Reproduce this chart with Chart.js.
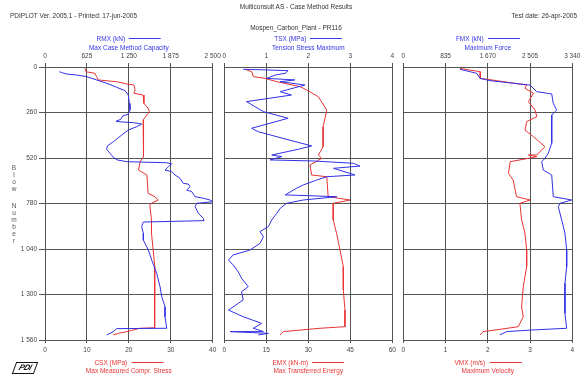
<!DOCTYPE html>
<html><head><meta charset="utf-8">
<script src="https://cdn.jsdelivr.net/npm/chart.js@4.4.1/dist/chart.umd.min.js"></script>
<style>
html,body{margin:0;padding:0;background:#fff;}
#wrap{position:relative;width:585px;height:379px;overflow:hidden;font-family:"Liberation Sans",Arial,sans-serif;}
canvas{position:absolute;left:0;top:0;}
.t{position:absolute;font-size:6.5px;line-height:7px;white-space:nowrap;color:#333;}
.c{transform:translateX(-50%);}
.blue{color:#3535e8;}
.red{color:#e83535;}
.ln{display:inline-block;width:32px;height:0;border-top:1px solid currentColor;vertical-align:2px;margin-left:4px;}
.yl{position:absolute;left:11px;font-size:6.5px;color:#555;width:6px;text-align:center;}
#logo{position:absolute;left:14px;top:362px;width:20px;height:10px;border:1.5px solid #111;transform:skewX(-20deg);font:italic bold 8px "Liberation Sans",Arial,sans-serif;line-height:10px;text-align:center;color:#111;letter-spacing:-0.5px;}
</style></head>
<body><div id="wrap">
<canvas id="c1" width="585" height="379"></canvas>
<canvas id="c2" width="585" height="379"></canvas>
<canvas id="c3" width="585" height="379"></canvas>
<div class="t c" style="left:296px;top:3px;">Multiconsult AS - Case Method Results</div>
<div class="t" style="left:10px;top:12px;">PDIPLOT Ver. 2005.1 - Printed: 17-jun-2005</div>
<div class="t" style="right:8px;top:12px;">Test date: 26-apr-2005</div>
<div class="t c" style="left:296px;top:24px;">Mospen_Carbon_Plant - PR116</div>
<div id="legends"></div>
<div id="ytitle"></div>
<div id="logo">PDI</div>
</div>
<script>
// ---------- data (value, blow number) ----------
const blowTicks = ['0','260','520','780','1 040','1 300','1 560'];
const yTitle = 'Blow Number';

// Panel 1
const rmxTicks = ['0','625','1 250','1 875','2 500'];
const csxTicks = ['0','10','20','30','40'];
const rmxBlow = [27,32,40,46,55,74,93,116,135,160,208,246,269,280,299,310,314,318,326,341,360,389,427,451,470,493,516,531,541,547,554,570,589,598,617,636,665,669,684,703,712,741,750,760,770,779,798,836,865,878,886,912,950,989,1046,1103,1179,1255,1312,1370,1427,1493,1495,1512,1522,1531];
const rmxVal  = [213,248,323,472,621,770,919,1069,1193,1242,1257,1267,1242,1158,1128,1059,1143,1317,1441,1367,1242,1143,1019,929,919,969,1019,1078,1218,1815,1889,1839,1789,1889,1938,2013,2062,2137,2162,2112,2187,2237,2361,2460,2500,2262,2237,2286,2361,2371,1466,1441,1466,1466,1541,1591,1665,1715,1740,1789,1789,1815,1069,1019,969,919];
const csxBlow = [8,27,36,55,74,84,97,103,131,150,160,208,236,255,274,303,436,512,541,589,617,722,741,760,779,790,874,950,1046,1141,1255,1331,1407,1490,1493,1507,1512,1522,1531];
const csxVal  = [9.5,9.8,11.9,12.3,12.7,17.1,19.5,21.2,21.5,21.2,23.4,23.6,24.6,24.9,24.3,23.4,23.4,23.6,22.7,22.3,24.3,24.6,26.2,27.0,25.4,25.0,25.4,25.4,25.8,26.2,26.2,26.0,26.2,26.2,22.7,20.3,19.5,17.5,16.3];

// Panel 2
const tsxTicks = ['0','1','2','3','4'];
const emxTicks = ['0','15','30','45','60'];
const tsxBlow = [13,17,21,36,46,65,74,84,103,141,160,198,255,293,350,370,408,451,470,503,512,531,537,550,566,579,617,627,646,674,693,731,741,760,779,808,836,874,912,941,970,1008,1046,1074,1103,1131,1170,1207,1255,1284,1331,1389,1427,1465,1493,1512,1512,1522,1531];
const tsxVal  = [0.45,1.01,1.52,1.45,1.21,1.01,1.68,1.33,1.92,1.33,1.60,0.53,0.93,1.52,0.65,0.81,1.40,2.08,1.76,1.13,1.37,1.09,2.12,3.07,3.23,2.60,3.11,2.44,2.20,1.88,1.72,1.45,2.68,1.88,1.48,1.33,1.25,1.13,1.05,0.85,0.93,0.85,0.61,0.21,0.10,0.21,0.33,0.41,0.57,0.41,0.45,0.10,0.45,0.89,0.69,0.93,0.14,1.05,0.81];
const emxBlow = [13,27,55,65,84,112,131,170,246,341,455,503,522,560,617,627,741,760,779,874,950,1046,1141,1274,1389,1484,1493,1512,1531];
const emxVal  = [7.4,9.8,10.4,14.5,18.7,27.0,29.4,33.6,36.6,35.3,35.3,33.6,34.8,30.6,31.2,36.6,37.1,44.9,38.9,38.9,40.1,41.3,42.5,42.5,43.1,43.1,34.2,21.1,19.9];

// Panel 3
const fmxTicks = ['0','835','1 670','2 505','3 340'];
const vmxTicks = ['0','1','2','3','4'];
const fmxBlow = [13,36,65,78,93,103,141,154,208,246,274,436,493,522,541,589,617,741,760,779,798,874,950,1046,1141,1236,1331,1407,1493,1503,1512,1531];
const fmxVal  = [1120,1450,1516,1713,2174,2504,2636,2933,2964,3031,2933,2933,2865,2800,2735,2767,2933,2964,3328,3097,3063,3130,3195,3229,3229,3195,3195,3195,3229,2537,2043,1911];
const vmxBlow = [8,27,65,78,103,122,150,198,246,284,312,360,398,455,503,503,512,522,541,607,646,741,760,779,874,950,1046,1141,1255,1370,1427,1484,1499,1512,1531];
const vmxVal  = [1.34,1.82,1.82,2.21,2.92,2.88,3.08,2.96,3.12,3.16,2.92,2.88,3.08,3.35,3.16,2.96,3.16,2.96,2.53,2.49,2.60,2.68,3.00,2.76,2.80,2.88,2.92,2.92,2.84,2.80,2.84,2.72,2.29,1.89,1.82];

const legendTop = [['RMX (kN)','Max Case Method Capacity'],['TSX (MPa)','Tension Stress Maximum'],['FMX (kN)','Maximum Force']];
const legendBot = [['CSX (MPa)','Max Measured Compr. Stress'],['EMX (kN-m)','Max Transferred Energy'],['VMX (m/s)','Maximum Velocity']];

// ---------- layout ----------
const W = 585, H = 379, TOP = 67, BOTTOM = 340;
const BLOW_MAX = 1560, BLOW_STEP = 260;
const panels = [
  {id:'c1', L:45,    R:212.7, top:{ticks:rmxTicks,max:2500,blow:rmxBlow,val:rmxVal}, bot:{ticks:csxTicks,max:40,blow:csxBlow,val:csxVal}},
  {id:'c2', L:224.3, R:392.3, top:{ticks:tsxTicks,max:4,blow:tsxBlow,val:tsxVal},    bot:{ticks:emxTicks,max:60,blow:emxBlow,val:emxVal}},
  {id:'c3', L:403.3, R:572.3, top:{ticks:fmxTicks,max:3340,blow:fmxBlow,val:fmxVal}, bot:{ticks:vmxTicks,max:4,blow:vmxBlow,val:vmxVal}}
];
const BLUE = '#3030e6', RED = '#ea3333', GRID = '#555', TXT = '#444';
const FONT = {family:'"Liberation Sans", Arial, sans-serif', size:6.5};

function pts(blow, val){ return blow.map((b,i)=>({x:val[i], y:b})); }
const lab = (arr, step) => (v) => arr[Math.round(v / step)];

panels.forEach((p, idx) => {
  const first = idx === 0;
  const tStep = p.top.max / 4, bStep = p.bot.max / 4;
  new Chart(document.getElementById(p.id), {
    type:'scatter',
    data:{datasets:[
      {data:pts(p.top.blow,p.top.val), xAxisID:'xTop', yAxisID:'y', showLine:true, borderColor:BLUE, borderWidth:1, pointRadius:0, tension:0},
      {data:pts(p.bot.blow,p.bot.val), xAxisID:'xBot', yAxisID:'y', showLine:true, borderColor:RED, borderWidth:1, pointRadius:0, tension:0}
    ]},
    options:{
      responsive:false, animation:false, devicePixelRatio:1,
      events:[],
      plugins:{legend:{display:false}, tooltip:{enabled:false}},
      layout:{padding:{left:0,right:W-p.R,top:0,bottom:0}},
      scales:{
        y:{type:'linear', position:'left', reverse:true, min:0, max:BLOW_MAX,
           afterFit(s){ s.width = p.L; },
           ticks:{display:first, stepSize:BLOW_STEP, padding:2, color:TXT, font:FONT, callback:lab(blowTicks, BLOW_STEP)},
           grid:{color:GRID, lineWidth:1, drawTicks:first, tickLength:6},
           border:{color:GRID}},
        xBot:{type:'linear', position:'bottom', min:0, max:p.bot.max,
           afterFit(s){ s.height = H - BOTTOM; },
           ticks:{stepSize:bStep, padding:3, maxRotation:0, autoSkip:false, color:TXT, font:FONT, callback:lab(p.bot.ticks, bStep)},
           grid:{color:GRID, lineWidth:1, tickLength:3},
           border:{color:GRID}},
        xTop:{type:'linear', position:'top', min:0, max:p.top.max,
           afterFit(s){ s.height = TOP; },
           ticks:{stepSize:tStep, padding:3, maxRotation:0, autoSkip:false, color:TXT, font:FONT, callback:lab(p.top.ticks, tStep)},
           grid:{color:GRID, lineWidth:1, drawOnChartArea:false, tickLength:4},
           border:{color:GRID}}
      }
    }
  });
});

// ---------- legends (text) ----------
const lg = document.getElementById('legends');
panels.forEach((p, i) => {
  const cx = (p.L + p.R) / 2;
  const mk = (txt, top, cls, line) => {
    const d = document.createElement('div');
    d.className = 't c ' + cls;
    d.style.left = cx + 'px'; d.style.top = top + 'px';
    d.textContent = txt;
    if (line) { const s = document.createElement('span'); s.className = 'ln'; d.appendChild(s); }
    lg.appendChild(d);
  };
  mk(legendTop[i][0], 35, 'blue', true);
  mk(legendTop[i][1], 44, 'blue', false);
  mk(legendBot[i][0], 358.5, 'red', true);
  mk(legendBot[i][1], 367, 'red', false);
});

// ---------- stacked y title ----------
const yt = document.getElementById('ytitle');
let yy = 164;
for (const ch of yTitle) {
  if (ch === ' ') { yy += 10; continue; }
  const d = document.createElement('div');
  d.className = 'yl'; d.style.top = yy + 'px'; d.textContent = ch;
  yt.appendChild(d);
  yy += 7;
}
</script>
</body></html>
